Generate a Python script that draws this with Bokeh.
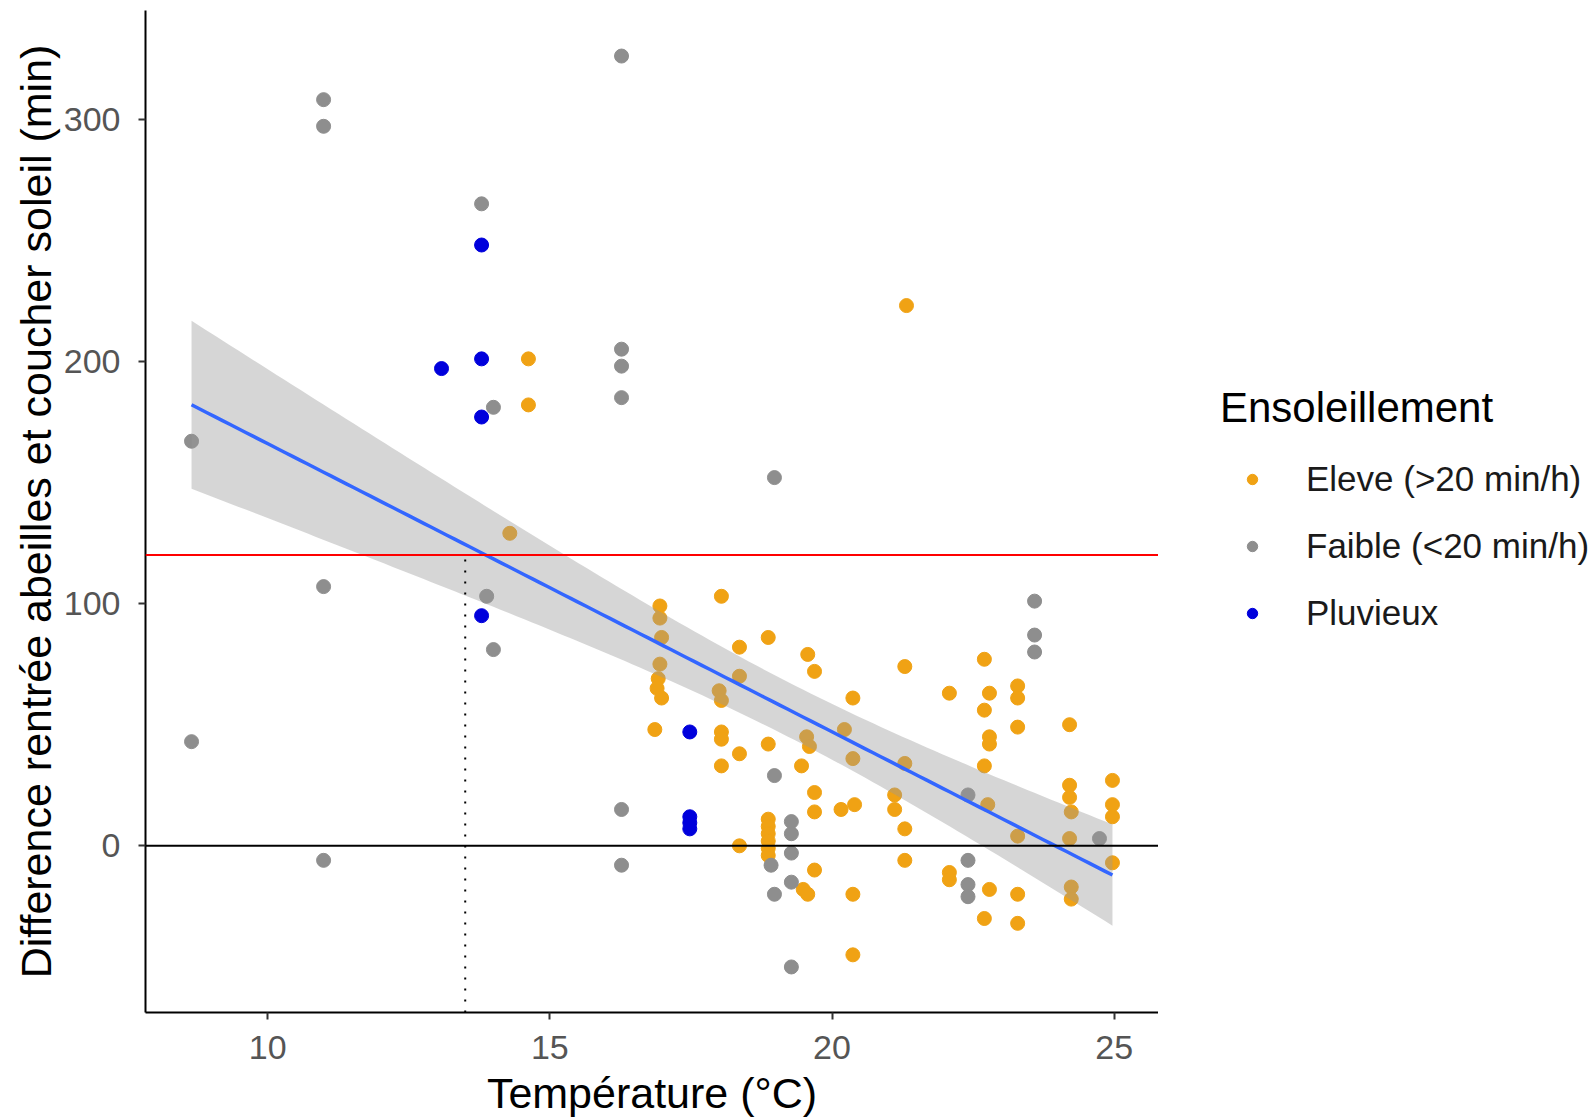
import numpy as np
from bokeh.plotting import figure
from bokeh.layouts import row
from bokeh.models import Range1d, Span, Legend, LegendItem, FixedTicker
from bokeh.embed import file_html
from bokeh.resources import INLINE

# --- Données : température (°C) et écart rentrée abeilles / coucher du soleil (min)
eleve_temp = [14.62, 14.62, 14.29, 21.32,
              16.95, 16.95, 16.98, 16.95, 16.92, 16.90, 16.98, 16.86,
              18.04, 18.36, 18.36, 18.00, 18.04, 18.04, 18.04, 18.36, 18.04,
              18.87, 18.87, 18.36, 18.87, 18.87, 18.87, 18.87, 18.87, 18.87,
              19.57, 19.69, 19.55, 19.60, 19.46, 19.69, 19.69, 19.69, 19.49, 19.57,
              20.37, 20.22, 20.37, 20.16, 20.40, 20.37, 20.37,
              21.29, 21.29, 21.11, 21.11, 21.29, 21.29,
              22.08, 22.08, 22.08, 22.70, 22.79, 22.70, 22.79, 22.79, 22.70, 22.76, 22.79, 22.70,
              23.29, 23.29, 23.29, 23.29, 23.29, 23.29,
              24.21, 24.21, 24.21, 24.24, 24.21, 24.24, 24.24,
              24.97, 24.97, 24.97, 24.97]
eleve_diff = [201, 182, 129, 223,
              99, 94, 86, 75, 69, 65, 61, 48,
              103, 82, 70, 64, 60, 47, 44, 38, 33,
              86, 42, 0, 11, 8, 5, 2, -1, -4,
              79, 72, 45, 41, 33, 22, 14, -10, -18, -20,
              61, 48, 36, 15, 17, -20, -45,
              74, 34, 21, 15, 7, -6,
              63, -11, -14, 77, 63, 56, 45, 42, 33, 17, -18, -30,
              66, 61, 49, 4, -20, -32,
              50, 25, 20, 14, 3, -17, -22,
              27, 17, 12, -7]

faible_temp = [8.65, 8.65, 10.99, 10.99, 10.99, 10.99,
               13.79, 14.00, 13.88, 14.00,
               16.27, 16.27, 16.27, 16.27, 16.27, 16.27,
               18.98, 18.98, 18.92, 18.98,
               19.28, 19.28, 19.28, 19.28, 19.28,
               22.41, 22.41, 22.41, 22.41,
               23.59, 23.59, 23.59, 24.74]
faible_diff = [167, 43, 308, 297, 107, -6,
               265, 181, 103, 81,
               326, 205, 198, 185, 15, -8,
               152, 29, -8, -20,
               10, 5, -3, -15, -50,
               21, -6, -16, -21,
               101, 87, 80, 3]

pluvieux_temp = [13.79, 13.79, 13.08, 13.79, 13.79, 17.48, 17.48, 17.48, 17.48]
pluvieux_diff = [248, 201, 197, 177, 95, 47, 12, 9.5, 7]

categories = ["Eleve (>20 min/h)", "Faible (<20 min/h)", "Pluvieux"]
colors = ["#F0A214", "#8E8E8E", "#0000DC"]

seuil_min = 120          # ligne rouge horizontale (2 h avant le coucher)
seuil_temp = 13.5        # température repérée par le pointillé vertical
x_ticks = [10, 15, 20, 25]
y_ticks = [0, 100, 200, 300]
T_975 = 1.98             # quantile de Student pour l'intervalle à 95 %

FONT = "'Liberation Sans', Arial, sans-serif"

series = [(eleve_temp, eleve_diff), (faible_temp, faible_diff), (pluvieux_temp, pluvieux_diff)]

# --- Régression linéaire sur l'ensemble des observations
all_x = np.array(eleve_temp + faible_temp + pluvieux_temp, dtype=float)
all_y = np.array(eleve_diff + faible_diff + pluvieux_diff, dtype=float)
n = len(all_x)
slope, intercept = np.polyfit(all_x, all_y, 1)
resid = all_y - (intercept + slope * all_x)
s = np.sqrt(np.sum(resid ** 2) / (n - 2))
x_mean = all_x.mean()
sxx = np.sum((all_x - x_mean) ** 2)
grid = np.linspace(all_x.min(), all_x.max(), 120)
fit = intercept + slope * grid
half = T_975 * s * np.sqrt(1.0 / n + (grid - x_mean) ** 2 / sxx)

# --- Étendue des axes : données + 5 %
xr = all_x.max() - all_x.min()
yr = all_y.max() - all_y.min()
x_range = Range1d(all_x.min() - 0.05 * xr, all_x.max() + 0.05 * xr)
y_range = Range1d(all_y.min() - 0.05 * yr, all_y.max() + 0.05 * yr)

W, H, LEG_W = 1595, 1119, 437

p = figure(width=W - LEG_W, height=H, x_range=x_range, y_range=y_range,
           output_backend="svg", toolbar_location=None,
           min_border_left=145, min_border_right=0,
           min_border_top=10, min_border_bottom=107)
p.outline_line_color = None
p.xgrid.grid_line_color = None
p.ygrid.grid_line_color = None
p.background_fill_color = "white"
p.border_fill_color = "white"

for (tx, dy), col in zip(series, colors):
    p.scatter(tx, dy, size=14, marker="circle", fill_color=col, line_color=col)

# Bande de confiance et droite ajustée
p.varea(x=grid, y1=fit - half, y2=fit + half, fill_color="#999999", fill_alpha=0.4)
p.line(grid, fit, line_color="#3366FF", line_width=3.5)

p.add_layout(Span(location=0, dimension="width", line_color="black", line_width=2))
p.add_layout(Span(location=seuil_min, dimension="width", line_color="#FF0000", line_width=2))
p.segment(x0=[seuil_temp], y0=[y_range.start], x1=[seuil_temp], y1=[seuil_min],
          line_color="black", line_width=2, line_dash="2 9")

# Axes
for ax in (p.xaxis, p.yaxis):
    ax.axis_line_color = "black"
    ax.axis_line_width = 2
    ax.major_tick_line_color = "#333333"
    ax.major_tick_line_width = 2
    ax.major_tick_out = 7
    ax.major_tick_in = 0
    ax.minor_tick_line_color = None
    ax.major_label_text_font = FONT
    ax.major_label_text_font_size = "34px"
    ax.major_label_text_color = "#555555"
    ax.axis_label_text_font = FONT
    ax.axis_label_text_font_style = "normal"
    ax.axis_label_text_color = "black"

p.xaxis.ticker = FixedTicker(ticks=x_ticks)
p.yaxis.ticker = FixedTicker(ticks=y_ticks)
p.xaxis.major_label_standoff = 16
p.yaxis.major_label_standoff = 18

p.xaxis.axis_label = "Température (°C)"
p.xaxis.axis_label_text_font_size = "43px"
p.xaxis.axis_label_standoff = 7

p.yaxis.axis_label = "Difference rentrée abeilles et coucher soleil (min)"
p.yaxis.axis_label_text_font_size = "43px"
p.yaxis.axis_label_standoff = 1

# --- Panneau de légende à droite du graphique (coordonnées en pixels)
leg = figure(width=LEG_W, height=H, x_range=Range1d(0, LEG_W), y_range=Range1d(0, H),
             output_backend="svg", toolbar_location=None,
             min_border_left=0, min_border_right=0, min_border_top=0, min_border_bottom=0)
leg.axis.visible = False
leg.xgrid.grid_line_color = None
leg.ygrid.grid_line_color = None
leg.outline_line_color = None
# les séries de la légende utilisent une échelle à part, hors champ : seules les clés s'affichent
leg.extra_x_ranges = {"cles": Range1d(-1000, -999)}

keys = [leg.scatter(tx, dy, x_range_name="cles", size=14, marker="circle",
                    fill_color=c, line_color=c)
        for (tx, dy), c in zip(series, colors)]

legend = Legend(items=[LegendItem(label=c, renderers=[k]) for c, k in zip(categories, keys)],
                title="Ensoleillement", location=(62, 379))
legend.title_text_font = FONT
legend.title_text_font_size = "42px"
legend.title_text_font_style = "normal"
legend.title_text_color = "black"
legend.title_standoff = 27
legend.label_text_font = FONT
legend.label_text_font_size = "35px"
legend.label_text_color = "#1a1a1a"
legend.glyph_width = 64
legend.glyph_height = 26
legend.label_standoff = 22
legend.spacing = 27
legend.margin = 0
legend.padding = 10
legend.border_line_color = None
legend.background_fill_alpha = 0
leg.add_layout(legend)

layout = row(p, leg)
open("out.html", "w").write(file_html(layout, INLINE))
